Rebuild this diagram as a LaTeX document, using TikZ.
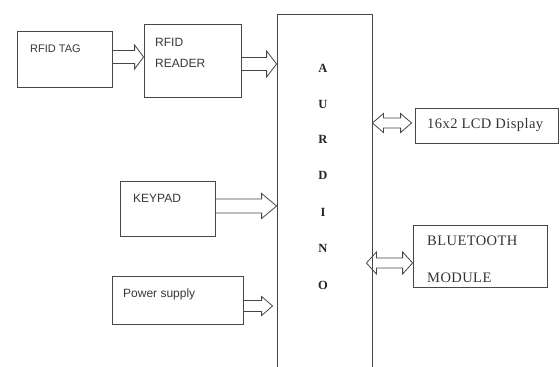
\documentclass[tikz,border=0pt]{standalone}
\usepackage{fontspec}
\setmainfont{Liberation Serif}
\newfontfamily\arialf{Liberation Sans}
\usetikzlibrary{calc}
\tikzset{
  box/.style={draw=black!72, line width=0.8pt, rectangle, inner sep=0pt},
  sanstxt/.style={font=\arialf\fontsize{12}{14}\selectfont, text=black!78, anchor=base west, inner sep=0pt},
  seriftxt/.style={font=\addfontfeatures{LetterSpace=3}\fontsize{14.5}{16}\selectfont, text=black!80, anchor=base west, inner sep=0pt},
  ardtxt/.style={font=\bfseries\fontsize{12.5}{14}\selectfont, text=black!85, inner sep=0pt},
  linkline/.style={draw=black!72, line width=0.8pt, line join=miter},
  sarrow/.style n args={3}{linkline, to path={let \p1=(\tikztostart), \p2=(\tikztotarget) in
    (\x1,\y1+#1) -- (\x2-#2,\y1+#1) -- (\x2-#2,\y1+#3) -- (\x2,\y1) -- (\x2-#2,\y1-#3) -- (\x2-#2,\y1-#1) -- (\x1,\y1-#1)}},
  darrow/.style n args={3}{linkline, to path={let \p1=(\tikztostart), \p2=(\tikztotarget) in
    (\x1,\y2) -- (\x1+#2,\y2+#3) -- (\x1+#2,\y2+#1) -- (\x2-#2,\y2+#1) -- (\x2-#2,\y2+#3) -- (\x2,\y2)
    -- (\x2-#2,\y2-#3) -- (\x2-#2,\y2-#1) -- (\x1+#2,\y2-#1) -- (\x1+#2,\y2-#3) -- cycle}},
}
\begin{document}
\begin{tikzpicture}[x=1pt,y=-1pt]
\useasboundingbox (0,0) rectangle (560,367);
\clip (0,0) rectangle (560,367);
\fill[white] (0,0) rectangle (560,367);
% boxes
\node[box, minimum width=95pt, minimum height=56pt] (tag) at (64.5,59) {};
\node[box, minimum width=97pt, minimum height=73pt] (reader) at (192.5,60.5) {};
\node[box, minimum width=95pt, minimum height=370pt] (ard) at (324.5,199) {};
\node[box, minimum width=143pt, minimum height=35pt] (lcd) at (486.5,125.5) {};
\node[box, minimum width=134pt, minimum height=62pt] (bt) at (480,256) {};
\node[box, minimum width=95pt, minimum height=55pt] (keypad) at (167.5,208.5) {};
\node[box, minimum width=131pt, minimum height=48pt] (power) at (177.5,300) {};
% texts
\node[sanstxt, font=\arialf\fontsize{11}{13}\selectfont] (ttag) at (30,52) {RFID TAG};
\node[sanstxt] (tr1) at (155,46) {RFID};
\node[sanstxt] (tr2) at (155,67) {READER};
\node[sanstxt] (tkey) at (133,202) {KEYPAD};
\node[sanstxt] (tpow) at (123,297) {Power supply};
\node[seriftxt] (tlcd) at (427,128) {16x2 LCD Display};
\node[seriftxt] (tbt1) at (427,245) {BLUETOOTH};
\node[seriftxt] (tbt2) at (427,282) {MODULE};
\node[ardtxt] (a1) at (323,68) {A};
\node[ardtxt] (a2) at (323,104) {U};
\node[ardtxt] (a3) at (323,139) {R};
\node[ardtxt] (a4) at (323,175) {D};
\node[ardtxt] (a5) at (323,212) {I};
\node[ardtxt] (a6) at (323,248) {N};
\node[ardtxt] (a7) at (323,285) {O};
% connectors
\draw[sarrow={6.5pt}{9pt}{12pt}] ([yshift=2pt]tag.east) to (reader.west);
\draw[sarrow={6.5pt}{10pt}{13pt}] ([yshift=-3.5pt]reader.east) to (ard.west);
\draw[sarrow={7pt}{15pt}{12.5pt}] ([yshift=2.5pt]keypad.east) to (ard.west);
\draw[sarrow={5.5pt}{11pt}{9.5pt}] ([yshift=-6pt]power.east) to ([xshift=-4pt]ard.west);
\draw[darrow={5pt}{11pt}{9.5pt}] (ard.east) to ([xshift=-3pt,yshift=2.5pt]lcd.west);
\draw[darrow={5pt}{10pt}{11pt}] ([xshift=-6pt]ard.east) to ([yshift=-7pt]bt.west);
\end{tikzpicture}
\end{document}
